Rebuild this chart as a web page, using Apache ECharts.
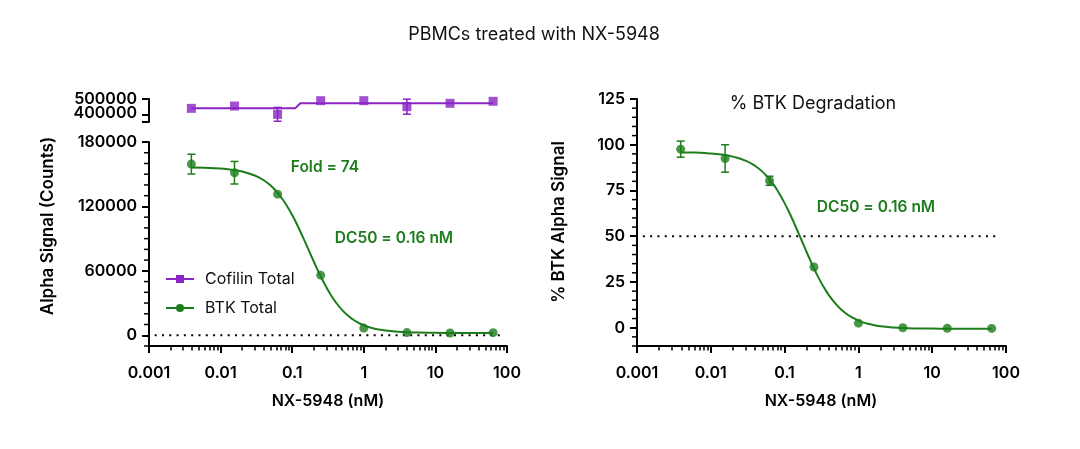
<!DOCTYPE html>
<html>
<head>
<meta charset="utf-8">
<script src="https://cdn.jsdelivr.net/npm/echarts@6/dist/echarts.min.js"></script>
<style>html,body{margin:0;padding:0;background:#fff}#c{width:1080px;height:449px}</style>
</head>
<body>
<div id="c"></div>
<script>
// ---- data ----
const doses = [0.00390625, 0.015625, 0.0625, 0.25, 1, 4, 16, 64];
const cofilinMean = [439000, 454000, 400000, 489000, 489000, 450000, 472000, 485000];
const cofilinErr  = [0, 0, 45000, 0, 0, 49000, 0, 0];
const btkMean = [159400, 151400, 131400, 56000, 6700, 2500, 2100, 2400];
const btkErr  = [9200, 10500, 0, 0, 0, 0, 0, 0];
const pctMean = [97.6, 92.5, 80.3, 33.2, 2.5, 0.0, -0.3, -0.4];
const pctErr  = [4.4, 7.5, 2.5, 0, 0, 0, 0, 0];

const fitX = [0.0039, 0.006, 0.01, 0.015, 0.02, 0.03, 0.04, 0.05, 0.06, 0.07, 0.08, 0.1, 0.12, 0.14, 0.16, 0.18, 0.2, 0.25, 0.3, 0.35, 0.4, 0.5, 0.6, 0.7, 0.8, 1, 1.3, 1.6, 2, 3, 4, 6, 10, 20, 64];
const btkFit = [156200,156000,155300,154000,152500,148800,144400,139400,134000,128500,123000,112000,101500,91900,83300,75600,68700,54900,44700,37100,31300,23400,18300,14900,12400,9300,6800,5400,4400,3300,2800,2500,2300,2100,2100];
const pctFit = [95.8,95.7,95.2,94.5,93.5,91.2,88.4,85.3,81.9,78.5,75.0,68.1,61.6,55.6,50.2,45.4,41.1,32.4,26.0,21.3,17.7,12.7,9.5,7.4,5.9,3.9,2.3,1.5,0.8,0.1,-0.2,-0.4,-0.5,-0.6,-0.6];
const cofFitX = [0.0039, 0.11, 0.13, 64];
const cofFit  = [439000, 439000, 472000, 472000];

const leftRefX = [0.0012, 80];   const leftRefY = [0, 0];
const rightRefX = [0.0012, 83];  const rightRefY = [50, 50];

const xMajor = [0.001, 0.01, 0.1, 1, 10, 100];
const xTickLabels = ['0.001', '0.01', '0.1', '1', '10', '100'];
const cofTicks = [350000, 400000, 500000];
const cofTickLabels = ['500000', '400000'];
const btkTicks = [0, 60000, 120000, 180000];
const pctTicks = [0, 25, 50, 75, 100, 125];

// ---- axis settings ----
const X_MIN = 0.001, X_MAX = 100;
const COF_MIN = 350000, COF_MAX = 500000;
const BTK_MIN = -10000, BTK_MAX = 180000, BTK_MINOR_STEP = 10000;
const PCT_MIN = -10, PCT_MAX = 125, PCT_MINOR_STEP = 5;

// ---- helpers ----
const PURPLE = '#8a24c4', GREEN = '#1d7d1d';
const FONT = 'Inter';
const xMinor = [];
for (let i = 0; i < xMajor.length - 1; i++) for (let m = 2; m <= 9; m++) xMinor.push(+(xMajor[i] * m).toPrecision(3));
const btkMinor = []; for (let v = BTK_MIN; v <= BTK_MAX; v += BTK_MINOR_STEP) if (btkTicks.indexOf(v) < 0) btkMinor.push(v);
const pctMinor = []; for (let v = PCT_MIN; v <= PCT_MAX; v += PCT_MINOR_STEP) if (pctTicks.indexOf(v) < 0) pctMinor.push(v);

const pairs = (xs, ys) => xs.map((x, i) => [x, ys[i]]);
const errData = (m, e) => doses.map((x, i) => [x, m[i] - e[i], m[i] + e[i]]).filter((d, i) => e[i] > 0);

function errRender(color) {
  return function (params, api) {
    const x = api.value(0);
    const p1 = api.coord([x, api.value(1)]);
    const p2 = api.coord([x, api.value(2)]);
    const w = 4, st = { stroke: color, lineWidth: 1.5 };
    return { type: 'group', children: [
      { type: 'line', shape: { x1: p1[0], y1: p1[1], x2: p2[0], y2: p2[1] }, style: st },
      { type: 'line', shape: { x1: p1[0] - w, y1: p1[1], x2: p1[0] + w, y2: p1[1] }, style: st },
      { type: 'line', shape: { x1: p2[0] - w, y1: p2[1], x2: p2[0] + w, y2: p2[1] }, style: st }
    ]};
  };
}
// y minor tick marks, all drawn from one anchor item, each placed through the axis scale
function yTicksRender(vals) {
  return function (params, api) {
    const children = vals.map(v => {
      const p = api.coord([X_MIN, v]);
      return { type: 'rect', shape: { x: p[0] - 5, y: p[1] - 0.75, width: 5, height: 1.5 }, style: { fill: '#000' } };
    });
    return { type: 'group', children: children };
  };
}

const axisLineStyle = { show: true, onZero: false, lineStyle: { color: '#000', width: 2 } };
const labelStyle = { color: '#000', fontFamily: FONT, fontSize: 16, fontWeight: 600, hideOverlap: false };
const plain = v => String(v);

function mainX(grid) {
  return { type: 'log', gridIndex: grid, min: X_MIN, max: X_MAX, logBase: 10,
    axisLine: axisLineStyle, splitLine: { show: false },
    axisTick: { show: true, length: 7, lineStyle: { width: 2, color: '#000' }, customValues: xMajor },
    axisLabel: Object.assign({ margin: 19, customValues: xMajor,
      formatter: v => { const i = xMajor.findIndex(t => Math.abs(t - v) / t < 1e-6); return i >= 0 ? xTickLabels[i] : ''; } }, labelStyle)
  };
}
// overlay x axis (same rectangle, own grid) that only carries the log minor tick marks
function minorX(grid) {
  return { type: 'log', gridIndex: grid, min: X_MIN, max: X_MAX, logBase: 10,
    axisLine: { show: false, onZero: false }, splitLine: { show: false }, axisLabel: { show: false },
    axisTick: { show: true, length: 4.5, lineStyle: { width: 1.5, color: '#000' }, customValues: xMinor } };
}
function overlayY(grid, min, max) {
  return { type: 'value', gridIndex: grid, min: min, max: max,
    axisLine: { show: false, onZero: false }, splitLine: { show: false }, axisLabel: { show: false }, axisTick: { show: false } };
}

const chart = echarts.init(document.getElementById('c'), null, { renderer: 'canvas' });
chart.setOption({
  animation: false,
  backgroundColor: '#fff',
  title: { text: 'PBMCs treated with NX-5948', left: 529, top: 21, textAlign: 'center',
    textStyle: { fontFamily: FONT, fontSize: 18, fontWeight: 400, color: '#111' } },
  grid: [
    { left: 149, top: 99, width: 358, height: 23 },
    { left: 149, top: 142, width: 358, height: 204 },
    { left: 637, top: 99, width: 369, height: 247 },
    { left: 149, top: 142, width: 358, height: 204 },
    { left: 637, top: 99, width: 369, height: 247 }
  ],
  xAxis: [
    { type: 'log', gridIndex: 0, min: X_MIN, max: X_MAX, show: false, axisLine: { onZero: false } },
    mainX(1), mainX(2), minorX(3), minorX(4)
  ],
  yAxis: [
    { type: 'value', gridIndex: 0, min: COF_MIN, max: COF_MAX, axisLine: axisLineStyle, splitLine: { show: false },
      axisTick: { show: true, length: 7, lineStyle: { width: 2, color: '#000' }, customValues: cofTicks },
      axisLabel: Object.assign({ margin: 12, customValues: [(cofTicks[1] + cofTicks[2]) / 2],
        formatter: () => cofTickLabels.join('\n'), lineHeight: 14 }, labelStyle) },
    { type: 'value', gridIndex: 1, min: BTK_MIN, max: BTK_MAX, axisLine: axisLineStyle, splitLine: { show: false },
      axisTick: { show: true, length: 7, lineStyle: { width: 2, color: '#000' }, customValues: btkTicks },
      axisLabel: Object.assign({ margin: 12, customValues: btkTicks, formatter: plain }, labelStyle) },
    { type: 'value', gridIndex: 2, min: PCT_MIN, max: PCT_MAX, axisLine: axisLineStyle, splitLine: { show: false },
      axisTick: { show: true, length: 7, lineStyle: { width: 2, color: '#000' }, customValues: pctTicks },
      axisLabel: Object.assign({ margin: 12, customValues: pctTicks, formatter: plain }, labelStyle) },
    overlayY(3, BTK_MIN, BTK_MAX),
    overlayY(4, PCT_MIN, PCT_MAX)
  ],
  legend: {
    data: ['Cofilin Total', 'BTK Total'], orient: 'vertical', left: 160, top: 266,
    itemWidth: 28, itemHeight: 10, itemGap: 13, selectedMode: false,
    textStyle: { fontFamily: FONT, fontSize: 16, color: '#111', padding: [0, 0, 0, 6] }
  },
  series: [
    { type: 'line', name: 'Cofilin Total', xAxisIndex: 0, yAxisIndex: 0, data: pairs(cofFitX, cofFit),
      symbol: 'rect', symbolSize: 8, showSymbol: false, color: PURPLE, lineStyle: { color: PURPLE, width: 2 }, z: 3 },
    { type: 'line', name: 'BTK Total', xAxisIndex: 1, yAxisIndex: 1, data: pairs(fitX, btkFit), smooth: true,
      symbol: 'circle', symbolSize: 8, showSymbol: false, color: GREEN, lineStyle: { color: GREEN, width: 2 }, z: 3 },
    { type: 'line', name: 'ref0', xAxisIndex: 1, yAxisIndex: 1, data: pairs(leftRefX, leftRefY), showSymbol: false,
      lineStyle: { color: '#000', width: 2, type: [2, 5.3] }, z: 2 },
    { type: 'custom', name: 'cofErr', xAxisIndex: 0, yAxisIndex: 0, data: errData(cofilinMean, cofilinErr),
      encode: { x: 0, y: [1, 2] }, renderItem: errRender(PURPLE), z: 4 },
    { type: 'scatter', name: 'cofPts', xAxisIndex: 0, yAxisIndex: 0, data: pairs(doses, cofilinMean),
      symbol: 'rect', symbolSize: 9, itemStyle: { color: PURPLE }, z: 5 },
    { type: 'custom', name: 'btkErr', xAxisIndex: 3, yAxisIndex: 3, data: errData(btkMean, btkErr),
      encode: { x: 0, y: [1, 2] }, renderItem: errRender(GREEN), z: 4 },
    { type: 'scatter', name: 'btkPts', xAxisIndex: 3, yAxisIndex: 3, data: pairs(doses, btkMean),
      symbol: 'circle', symbolSize: 9, itemStyle: { color: GREEN }, z: 5 },
    { type: 'line', name: 'ref50', xAxisIndex: 2, yAxisIndex: 2, data: pairs(rightRefX, rightRefY), showSymbol: false,
      lineStyle: { color: '#000', width: 2, type: [2, 5.3] }, z: 2 },
    { type: 'line', name: 'pctFit', xAxisIndex: 2, yAxisIndex: 2, data: pairs(fitX, pctFit), smooth: true,
      showSymbol: false, lineStyle: { color: GREEN, width: 2 }, z: 3 },
    { type: 'custom', name: 'pctErr', xAxisIndex: 4, yAxisIndex: 4, data: errData(pctMean, pctErr),
      encode: { x: 0, y: [1, 2] }, renderItem: errRender(GREEN), z: 4 },
    { type: 'scatter', name: 'pctPts', xAxisIndex: 4, yAxisIndex: 4, data: pairs(doses, pctMean),
      symbol: 'circle', symbolSize: 9, itemStyle: { color: GREEN }, z: 5 },
    { type: 'custom', name: 'btkMinorY', xAxisIndex: 1, yAxisIndex: 1, data: [[doses[0], btkMean[0]]],
      encode: { x: 0, y: 1 }, clip: false, silent: true, renderItem: yTicksRender(btkMinor), z: 10 },
    { type: 'custom', name: 'pctMinorY', xAxisIndex: 2, yAxisIndex: 2, data: [[doses[0], pctMean[0]]],
      encode: { x: 0, y: 1 }, clip: false, silent: true, renderItem: yTicksRender(pctMinor), z: 10 }
  ],
  graphic: [
    { type: 'text', x: 48, y: 226, rotation: Math.PI / 2,
      style: { text: 'Alpha Signal (Counts)', font: '600 17px ' + FONT, fill: '#000', textAlign: 'center', textVerticalAlign: 'middle' } },
    { type: 'text', x: 559, y: 222, rotation: Math.PI / 2,
      style: { text: '% BTK Alpha Signal', font: '600 17px ' + FONT, fill: '#000', textAlign: 'center', textVerticalAlign: 'middle' } },
    { type: 'text', x: 328, y: 401,
      style: { text: 'NX-5948 (nM)', font: '600 16px ' + FONT, fill: '#000', textAlign: 'center', textVerticalAlign: 'middle' } },
    { type: 'text', x: 821, y: 401,
      style: { text: 'NX-5948 (nM)', font: '600 16px ' + FONT, fill: '#000', textAlign: 'center', textVerticalAlign: 'middle' } },
    { type: 'text', x: 813, y: 104,
      style: { text: '% BTK Degradation', font: '400 18px ' + FONT, fill: '#111', textAlign: 'center', textVerticalAlign: 'middle' } },
    { type: 'text', x: 325, y: 167,
      style: { text: 'Fold = 74', font: '600 15.5px ' + FONT, fill: GREEN, textAlign: 'center', textVerticalAlign: 'middle' } },
    { type: 'text', x: 394, y: 238,
      style: { text: 'DC50 = 0.16 nM', font: '600 15.5px ' + FONT, fill: GREEN, textAlign: 'center', textVerticalAlign: 'middle' } },
    { type: 'text', x: 876, y: 207,
      style: { text: 'DC50 = 0.16 nM', font: '600 15.5px ' + FONT, fill: GREEN, textAlign: 'center', textVerticalAlign: 'middle' } }
  ]
});
</script>
</body>
</html>
